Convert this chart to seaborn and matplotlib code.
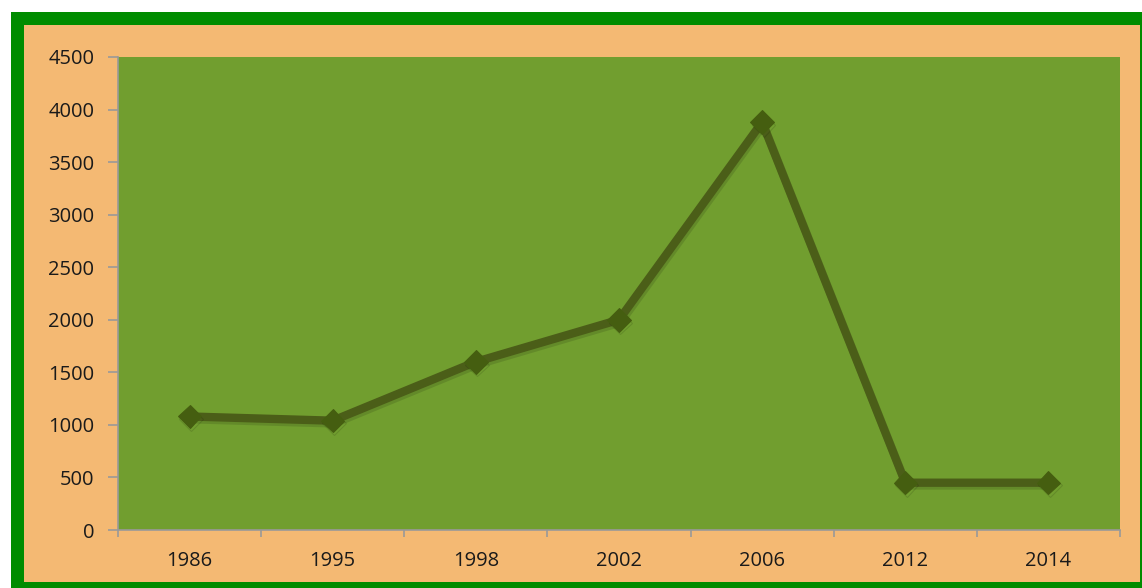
import numpy as np
import matplotlib
matplotlib.use("Agg")
import matplotlib.pyplot as plt
import matplotlib.patheffects as pe
from matplotlib.patches import Rectangle
import seaborn as sns
import pandas as pd

years = ["1986", "1995", "1998", "2002", "2006", "2012", "2014"]
values = [1080, 1040, 1600, 2000, 3880, 450, 450]
y_ticks = [0, 500, 1000, 1500, 2000, 2500, 3000, 3500, 4000, 4500]

df = pd.DataFrame({"year": years, "value": values})

sns.set_style("white")
plt.rcParams["font.family"] = ["Open Sans", "DejaVu Sans"]

W, H = 1142, 588
fig = plt.figure(figsize=(W / 100, H / 100), dpi=100, facecolor="white")

# green frame + peach panel
fig.patches.append(Rectangle((11 / W, 0), 1, 1 - 12 / H, transform=fig.transFigure,
                             facecolor="#008c00", edgecolor="none", zorder=-3))
fig.patches.append(Rectangle((24 / W, 6 / H), (1140 - 24) / W, (H - 25 - 6) / H,
                             transform=fig.transFigure,
                             facecolor="#f4b973", edgecolor="none", zorder=-2))

ax = fig.add_axes([118 / W, (H - 530) / H, (1120 - 118) / W, (530 - 57) / H])
ax.set_facecolor("#719e2f")

sns.lineplot(data=df, x="year", y="value", ax=ax, color="#4b5e18", lw=6,
             marker="D", markersize=12, markerfacecolor="#455e10",
             markeredgecolor="#455e10", sort=False,
             path_effects=[pe.SimpleLineShadow(offset=(1, -2), alpha=0.12), pe.Normal()])

ax.set_xlim(-0.5, len(years) - 0.5)
ax.set_ylim(0, 4500)
ax.set_yticks(y_ticks)
ax.set_xticks(range(len(years)))
ax.set_xticklabels(years)
ax.set_xticks(np.arange(-0.5, len(years), 1), minor=True)
ax.tick_params(axis="x", which="major", bottom=False, length=0, pad=15, labelsize=14.5,
               colors="#1a1a1a")
ax.tick_params(axis="x", which="minor", bottom=True, length=5, color="#999999", width=1.2)
ax.tick_params(axis="y", left=True, length=7, color="#999999", width=1.2, labelsize=14.5,
               labelcolor="#1a1a1a", pad=10)
ax.set_xlabel("")
ax.set_ylabel("")
for side in ["top", "right"]:
    ax.spines[side].set_visible(False)
for side in ["left", "bottom"]:
    ax.spines[side].set_color("#999999")
    ax.spines[side].set_linewidth(1.2)

fig.savefig("out.png", dpi=100, facecolor=fig.get_facecolor())
